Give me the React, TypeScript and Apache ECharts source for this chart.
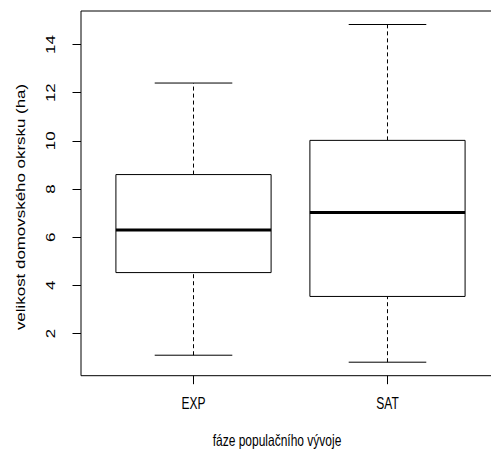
import React, { useEffect, useRef } from "react";
import * as echarts from "echarts";

const categories = ["EXP", "SAT"];
const lowerWhisker = [1.1, 0.81];
const lowerQuartile = [4.53, 3.54];
const medians = [6.3, 7.02];
const upperQuartile = [8.6, 10.02];
const upperWhisker = [12.4, 14.83];
const yTicks = [2, 4, 6, 8, 10, 12, 14];
const xTitle = "fáze populačního vývoje";
const yTitle = "velikost domovského okrsku (ha)";

const FONT = "'Liberation Sans', Arial, Helvetica, sans-serif";
// the reference picture is stretched vertically
const STRETCH = 1.41;

export default function App() {
  const ref = useRef<HTMLDivElement>(null);
  useEffect(() => {
    if (!ref.current) return;
    const chart = echarts.init(ref.current, null, { renderer: "svg" });
    const lo = Math.min(...lowerWhisker);
    const hi = Math.max(...upperWhisker);
    const pad = (hi - lo) * 0.04;
    const n = categories.length;
    const xPad = n * 0.04;
    const data = categories.map((_, i) => [
      i + 1,
      lowerWhisker[i],
      lowerQuartile[i],
      medians[i],
      upperQuartile[i],
      upperWhisker[i],
    ]);
    chart.setOption({
      animation: false,
      backgroundColor: "#fff",
      textStyle: { fontFamily: FONT, color: "#000" },
      grid: {
        left: 81,
        top: 11,
        width: 419,
        height: 364.7,
        show: true,
        borderColor: "#000",
        borderWidth: 1,
        backgroundColor: "transparent",
      },
      xAxis: {
        type: "value",
        min: 0.5 - xPad,
        max: n + 0.5 + xPad,
        axisLine: { show: false },
        splitLine: { show: false },
        axisTick: {
          show: true,
          length: 8.5,
          customValues: categories.map((_, i) => i + 1),
          lineStyle: { color: "#000" },
        },
        axisLabel: { show: false },
      },
      yAxis: {
        type: "value",
        min: lo - pad,
        max: hi + pad,
        axisLine: { show: false },
        splitLine: { show: false },
        axisTick: {
          show: true,
          length: 8.5,
          customValues: yTicks,
          lineStyle: { color: "#000" },
        },
        axisLabel: { show: false },
      },
      series: [
        {
          type: "custom",
          data,
          encode: { x: 0, y: [1, 2, 3, 4, 5] },
          renderItem: (params: any, api: any) => {
            const x = api.value(0);
            const pLow = api.coord([x, api.value(1)]);
            const pQ1 = api.coord([x, api.value(2)]);
            const pMed = api.coord([x, api.value(3)]);
            const pQ3 = api.coord([x, api.value(4)]);
            const pHigh = api.coord([x, api.value(5)]);
            const bw = api.size([0.8, 0])[0];
            const cw = api.size([0.4, 0])[0];
            const cx = pLow[0];
            const line = { stroke: "#000", lineWidth: 1 };
            const dash = { stroke: "#000", lineWidth: 1, lineDash: [4, 3] };
            return {
              type: "group",
              children: [
                { type: "line", shape: { x1: cx, y1: pQ3[1], x2: cx, y2: pHigh[1] }, style: dash },
                { type: "line", shape: { x1: cx, y1: pLow[1], x2: cx, y2: pQ1[1] }, style: dash },
                { type: "line", shape: { x1: cx - cw / 2, y1: pHigh[1], x2: cx + cw / 2, y2: pHigh[1] }, style: line },
                { type: "line", shape: { x1: cx - cw / 2, y1: pLow[1], x2: cx + cw / 2, y2: pLow[1] }, style: line },
                {
                  type: "rect",
                  shape: { x: cx - bw / 2, y: pQ3[1], width: bw, height: pQ1[1] - pQ3[1] },
                  style: { fill: "#fff", stroke: "#000", lineWidth: 1 },
                },
                { type: "line", shape: { x1: cx - bw / 2, y1: pMed[1], x2: cx + bw / 2, y2: pMed[1] }, style: { stroke: "#000", lineWidth: 3 } },
              ],
            };
          },
        },
      ],
    });

    const textStyle = (text: string) => ({
      text,
      fontSize: 12,
      fontFamily: FONT,
      fill: "#000",
      align: "center",
      verticalAlign: "middle",
      textAlign: "center",
      textVerticalAlign: "middle",
    });
    const graphics: any[] = [];
    yTicks.forEach((v) => {
      const p = chart.convertToPixel({ gridIndex: 0 }, [1, v]) as number[];
      graphics.push({
        type: "text",
        x: 50.5,
        y: p[1],
        rotation: Math.PI / 2,
        scaleX: STRETCH,
        style: textStyle(String(v)),
      });
    });
    categories.forEach((c, i) => {
      const p = chart.convertToPixel({ gridIndex: 0 }, [i + 1, yTicks[0]]) as number[];
      graphics.push({
        type: "text",
        x: p[0],
        y: 403.5,
        scaleY: STRETCH,
        style: textStyle(c),
      });
    });
    graphics.push({
      type: "text",
      x: 277,
      y: 440,
      scaleY: STRETCH,
      style: textStyle(xTitle),
    });
    graphics.push({
      type: "text",
      x: 21,
      y: 207,
      rotation: Math.PI / 2,
      scaleX: STRETCH,
      style: textStyle(yTitle),
    });
    chart.setOption({ graphic: graphics });

    return () => chart.dispose();
  }, []);
  return (
    <div style={{ position: "fixed", left: 0, top: 0, width: 491, height: 450, overflow: "hidden", background: "#fff" }}>
      <div ref={ref} style={{ width: 520, height: 450 }} />
    </div>
  );
}
